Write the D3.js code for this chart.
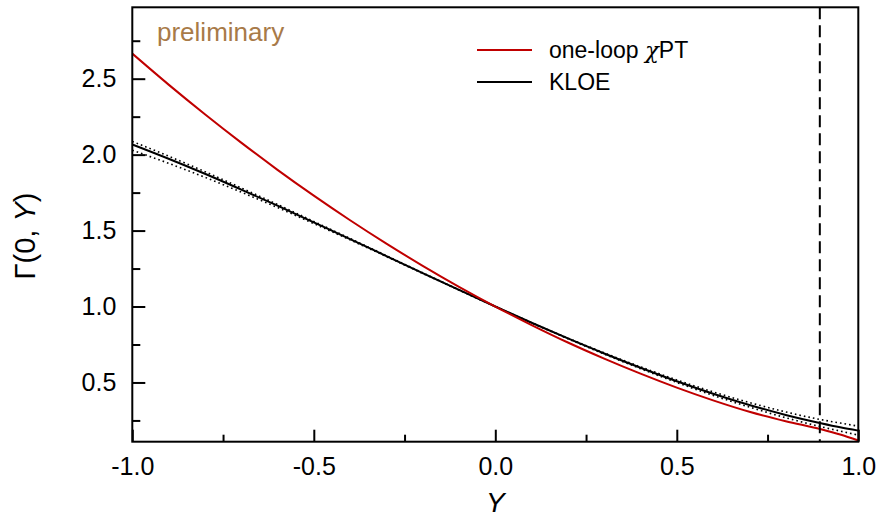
<!DOCTYPE html>
<html>
<head>
<meta charset="utf-8">
<script src="https://cdn.jsdelivr.net/npm/d3@7"></script>
<style>
  body { margin: 0; background: #fff; }
  text { font-family: "Liberation Sans", Arial, sans-serif; }
</style>
</head>
<body>
<svg id="chart" width="878" height="520"></svg>
<script>
// Dalitz variable Y and the curves
const yGrid = [-1.0, -0.9, -0.8, -0.7, -0.6, -0.5, -0.4, -0.3, -0.2, -0.1, 0.0,
  0.1, 0.2, 0.3, 0.4, 0.5, 0.6, 0.7, 0.8, 0.9, 0.95, 1.0];
const chptValues = [2.665, 2.461, 2.266, 2.079, 1.900, 1.730, 1.568, 1.414, 1.268, 1.130, 1.000,
  0.878, 0.763, 0.657, 0.558, 0.466, 0.382, 0.307, 0.245, 0.190, 0.157, 0.118];
const kloeValues = [2.067, 1.973, 1.874, 1.770, 1.664, 1.554, 1.444, 1.332, 1.220, 1.109, 1.000,
  0.893, 0.790, 0.691, 0.597, 0.508, 0.426, 0.352, 0.286, 0.230, 0.205, 0.183];
const kloeUpper = [2.087, 1.990, 1.888, 1.781, 1.672, 1.560, 1.448, 1.335, 1.222, 1.110, 1.000,
  0.894, 0.792, 0.695, 0.603, 0.517, 0.438, 0.368, 0.306, 0.254, 0.233, 0.212];
const kloeLower = [2.029, 1.943, 1.851, 1.753, 1.652, 1.546, 1.439, 1.329, 1.218, 1.108, 1.000,
  0.892, 0.788, 0.687, 0.591, 0.500, 0.415, 0.338, 0.268, 0.207, 0.180, 0.153];

const xMajorTicks = [-1.0, -0.5, 0.0, 0.5, 1.0];
const xMinorTicks = [-0.75, -0.25, 0.25, 0.75];
const yMajorTicks = [0.5, 1.0, 1.5, 2.0, 2.5];
const yMinorTicks = [0.25, 0.75, 1.25, 1.75, 2.25, 2.75];
const yBoundary = 0.894;

const svg = d3.select("#chart");
const margin = { top: 7.3, right: 19.7, bottom: 78.3, left: 132.3 };
const width = 878, height = 520;
const red = "#c00000";

const x = d3.scaleLinear().domain([-1, 1]).range([margin.left, width - margin.right]);
const y = d3.scaleLinear().domain([0.11, 2.97]).range([height - margin.bottom, margin.top]);

// plain hyphen for negatives, like the original
const fmt = d => d.toFixed(1);

svg.append("clipPath").attr("id", "plot")
  .append("rect")
  .attr("x", margin.left).attr("y", margin.top)
  .attr("width", width - margin.left - margin.right)
  .attr("height", height - margin.top - margin.bottom);

// axes with inward ticks
function styleAxis(g) {
  g.select(".domain").remove();
  g.selectAll(".tick line").attr("stroke", "#000").attr("stroke-width", 2);
  g.selectAll("text").attr("fill", "#000").style("font-size", "25px");
}

svg.append("g")
  .attr("transform", `translate(0,${height - margin.bottom})`)
  .call(d3.axisBottom(x).tickValues(xMajorTicks).tickSizeInner(-12).tickPadding(16).tickFormat(fmt))
  .call(styleAxis)
  .selectAll("text").attr("dy", "0.71em");

svg.append("g")
  .attr("transform", `translate(0,${height - margin.bottom})`)
  .call(d3.axisBottom(x).tickValues(xMinorTicks).tickSizeInner(-7).tickFormat(""))
  .call(styleAxis);

svg.append("g")
  .attr("transform", `translate(${margin.left},0)`)
  .call(d3.axisLeft(y).tickValues(yMajorTicks).tickSizeInner(-13).tickPadding(16).tickFormat(fmt))
  .call(styleAxis);

svg.append("g")
  .attr("transform", `translate(${margin.left},0)`)
  .call(d3.axisLeft(y).tickValues(yMinorTicks).tickSizeInner(-8).tickFormat(""))
  .call(styleAxis);

// curves
const line = d3.line().x(d => x(d[0])).y(d => y(d[1])).curve(d3.curveMonotoneX);
const plot = svg.append("g").attr("clip-path", "url(#plot)");

[kloeUpper, kloeLower].forEach(band => {
  plot.append("path")
    .datum(yGrid.map((v, i) => [v, band[i]]))
    .attr("fill", "none").attr("stroke", "#000").attr("stroke-width", 1.6)
    .attr("stroke-dasharray", "1.6,3").attr("d", line);
});

plot.append("path")
  .datum(yGrid.map((v, i) => [v, kloeValues[i]]))
  .attr("fill", "none").attr("stroke", "#000").attr("stroke-width", 2)
  .attr("d", line);

plot.append("path")
  .datum(yGrid.map((v, i) => [v, chptValues[i]]))
  .attr("fill", "none").attr("stroke", red).attr("stroke-width", 2)
  .attr("d", line);

// kinematic boundary
svg.append("line")
  .attr("x1", x(yBoundary)).attr("x2", x(yBoundary))
  .attr("y1", margin.top).attr("y2", height - margin.bottom)
  .attr("stroke", "#000").attr("stroke-width", 2)
  .attr("stroke-dasharray", "12,6");

// frame
svg.append("rect")
  .attr("x", margin.left).attr("y", margin.top)
  .attr("width", width - margin.left - margin.right)
  .attr("height", height - margin.top - margin.bottom)
  .attr("fill", "none").attr("stroke", "#000").attr("stroke-width", 2);

// labels
svg.append("text")
  .attr("x", 157).attr("y", 41)
  .attr("fill", "#a87a48").style("font-size", "26px")
  .text("preliminary");

svg.append("text")
  .attr("x", x(0)).attr("y", 512)
  .attr("text-anchor", "middle").style("font-size", "28px").style("font-style", "italic")
  .text("Y");

const yLabel = svg.append("text")
  .attr("transform", `translate(35,236) rotate(-90)`)
  .attr("text-anchor", "middle").style("font-size", "29px");
yLabel.append("tspan").text("Γ(0, ");
yLabel.append("tspan").style("font-style", "italic").text("Y");
yLabel.append("tspan").text(")");

// legend
const legend = [
  { color: red, parts: [["one-loop ", false], ["χ", true], ["PT", false]], y: 50 },
  { color: "#000", parts: [["KLOE", false]], y: 82 }
];
legend.forEach(item => {
  svg.append("line")
    .attr("x1", 477).attr("x2", 532).attr("y1", item.y).attr("y2", item.y)
    .attr("stroke", item.color).attr("stroke-width", 2);
  const t = svg.append("text")
    .attr("x", 549).attr("y", item.y + 8).style("font-size", "23px");
  item.parts.forEach(([s, greek]) => {
    const ts = t.append("tspan").text(s);
    if (greek) ts.style("font-family", "'DejaVu Serif', serif").style("font-style", "italic");
  });
});
</script>
</body>
</html>
